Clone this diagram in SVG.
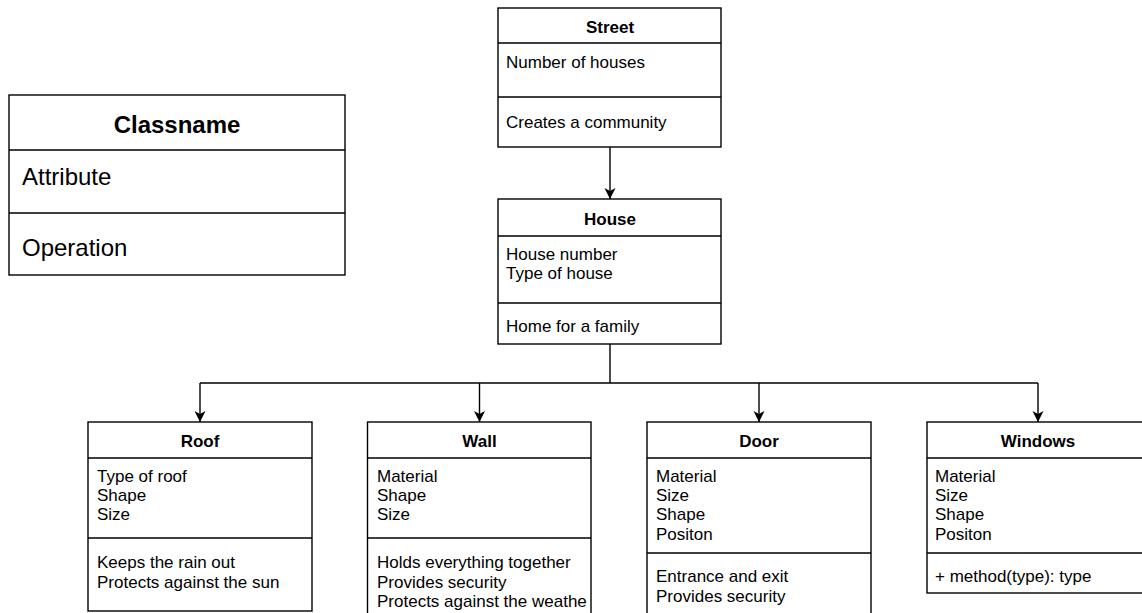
<svg xmlns="http://www.w3.org/2000/svg" width="1142" height="613" viewBox="0 0 1142 613">
<style>
.box{fill:#fff;stroke:#000;stroke-width:1.4}
.div{stroke:#000;stroke-width:1.4;fill:none}
.t{font-family:"Liberation Sans",Arial,sans-serif;font-size:17px;fill:#000}
.h{font-family:"Liberation Sans",Arial,sans-serif;font-size:17px;font-weight:bold;fill:#000;text-anchor:middle}
.big{font-family:"Liberation Sans",Arial,sans-serif;font-size:24px;fill:#000}
.bigh{font-family:"Liberation Sans",Arial,sans-serif;font-size:24px;font-weight:bold;fill:#000;text-anchor:middle}
.c{stroke:#000;stroke-width:1.4;fill:none}
</style>
<defs>
<marker id="arr" markerUnits="userSpaceOnUse" markerWidth="12" markerHeight="12" viewBox="0 0 12 12" refX="11" refY="6" orient="auto">
<path d="M0,0.5 L11,6 L0,11.5 L3,6 Z" fill="#000"/>
</marker>
</defs>
<rect width="1142" height="613" fill="#fff"/>
<g id="connectors">
<line class="c" x1="610" y1="147" x2="610" y2="199" marker-end="url(#arr)"/>
<path class="c" d="M610,344 V383 M200,383 H1038"/>
<line class="c" x1="200" y1="383" x2="200" y2="422" marker-end="url(#arr)"/>
<line class="c" x1="479.5" y1="383" x2="479.5" y2="422" marker-end="url(#arr)"/>
<line class="c" x1="759" y1="383" x2="759" y2="422" marker-end="url(#arr)"/>
<line class="c" x1="1038" y1="383" x2="1038" y2="422" marker-end="url(#arr)"/>
</g>
<g id="legend">
<rect class="box" x="9" y="95" width="336" height="180"/>
<path class="div" d="M9,150 H345 M9,213 H345"/>
<text class="bigh" x="177" y="133">Classname</text>
<text class="big" x="22" y="185">Attribute</text>
<text class="big" x="22" y="256">Operation</text>
</g>
<g id="street">
<rect class="box" x="498" y="8" width="223" height="139"/>
<path class="div" d="M498,43 H721 M498,97 H721"/>
<text class="h" x="610" y="33">Street</text>
<text class="t" x="506" y="68">Number of houses</text>
<text class="t" x="506" y="128">Creates a community</text>
</g>
<g id="house">
<rect class="box" x="498" y="199" width="223" height="145"/>
<path class="div" d="M498,236 H721 M498,303 H721"/>
<text class="h" x="610" y="225">House</text>
<text class="t" x="506" y="260">House number</text>
<text class="t" x="506" y="279">Type of house</text>
<text class="t" x="506" y="332">Home for a family</text>
</g>
<g id="roof">
<rect class="box" x="88" y="422" width="224" height="189"/>
<path class="div" d="M88,458 H312 M88,538 H312"/>
<text class="h" x="200" y="447">Roof</text>
<text class="t" x="97" y="482">Type of roof</text>
<text class="t" x="97" y="501">Shape</text>
<text class="t" x="97" y="520">Size</text>
<text class="t" x="97" y="568">Keeps the rain out</text>
<text class="t" x="97" y="588">Protects against the sun</text>
</g>
<g id="wall">
<rect class="box" x="367.5" y="422" width="223.5" height="200"/>
<path class="div" d="M367.5,458 H591 M367.5,538 H591"/>
<text class="h" x="479.5" y="447">Wall</text>
<text class="t" x="377" y="482">Material</text>
<text class="t" x="377" y="501">Shape</text>
<text class="t" x="377" y="520">Size</text>
<text class="t" x="377" y="568">Holds everything together</text>
<text class="t" x="377" y="587.5">Provides security</text>
<text class="t" x="377" y="607">Protects against the weathe</text>
</g>
<g id="door">
<rect class="box" x="647" y="422" width="224" height="200"/>
<path class="div" d="M647,458 H871 M647,553 H871"/>
<text class="h" x="759" y="447">Door</text>
<text class="t" x="656" y="482">Material</text>
<text class="t" x="656" y="501">Size</text>
<text class="t" x="656" y="520">Shape</text>
<text class="t" x="656" y="540">Positon</text>
<text class="t" x="656" y="582">Entrance and exit</text>
<text class="t" x="656" y="602">Provides security</text>
</g>
<g id="windows">
<rect class="box" x="927" y="422" width="224" height="171"/>
<path class="div" d="M927,458 H1151 M927,553 H1151"/>
<text class="h" x="1038" y="447">Windows</text>
<text class="t" x="935" y="482">Material</text>
<text class="t" x="935" y="501">Size</text>
<text class="t" x="935" y="520">Shape</text>
<text class="t" x="935" y="540">Positon</text>
<text class="t" x="935" y="582">+ method(type): type</text>
</g>
</svg>
